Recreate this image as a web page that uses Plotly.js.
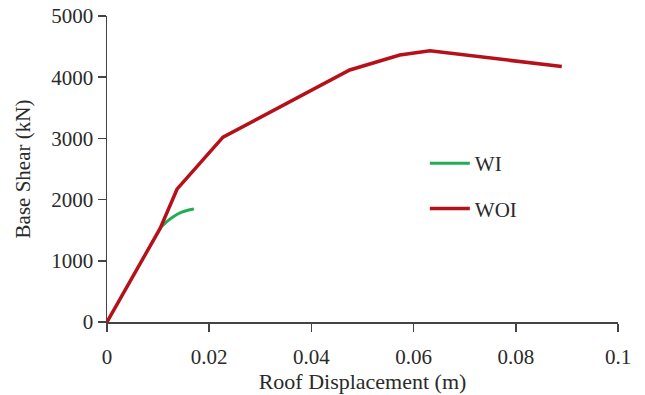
<!DOCTYPE html>
<html>
<head>
<meta charset="utf-8">
<script src="https://cdn.plot.ly/plotly-3.0.1.min.js"></script>
<style>html,body{margin:0;padding:0;background:#fff;}#chart{width:645px;height:395px;}</style>
</head>
<body>
<div id="chart"></div>
<script>
const woiX = [0, 0.0104, 0.0137, 0.0227, 0.0475, 0.0573, 0.0632, 0.089];
const woiY = [0, 1530, 2170, 3020, 4118, 4363, 4430, 4175];
const wiX = [0.0104, 0.0117, 0.0129, 0.0145, 0.016, 0.017];
const wiY = [1536, 1640, 1716, 1790, 1830, 1846];
const xTicks = [0, 0.02, 0.04, 0.06, 0.08, 0.1];
const xTickText = ['0', '0.02', '0.04', '0.06', '0.08', '0.1'];
const yTicks = [0, 1000, 2000, 3000, 4000, 5000];
const yTickText = ['0', '1000', '2000', '3000', '4000', '5000'];

const fam = 'Liberation Serif';
const txt = '#2a2a2a';

const data = [
  {x: wiX, y: wiY, name: 'WI', mode: 'lines', line: {color: '#22ad55', width: 3, shape: 'spline'}, legendgroup: 'a'},
  {x: woiX, y: woiY, name: 'WOI', mode: 'lines', line: {color: '#b5111a', width: 3.5}, legendgroup: 'b'}
];
const layout = {
  width: 645, height: 395,
  margin: {l: 107, r: 27, t: 16, b: 73},
  paper_bgcolor: '#fff', plot_bgcolor: '#fff',
  font: {family: fam, size: 21, color: txt},
  showlegend: true,
  legend: {x: 0.622, y: 0.585, xanchor: 'left', yanchor: 'top', traceorder: 'grouped', tracegroupgap: 15, itemwidth: 40,
           font: {family: fam, size: 21, color: txt}, bgcolor: 'rgba(0,0,0,0)'},
  xaxis: {
    range: [0, 0.1], tickvals: xTicks, ticktext: xTickText,
    showgrid: false, zeroline: false, showline: true, linecolor: '#444', linewidth: 1.5,
    ticks: 'outside', ticklen: 8, tickcolor: '#444', tickwidth: 1.5, ticklabelstandoff: 7,
    tickfont: {family: fam, size: 21, color: txt},
    title: {text: 'Roof Displacement (m)', font: {family: fam, size: 22, color: txt}, standoff: 0}
  },
  yaxis: {
    range: [0, 5000], tickmode: 'array', tickvals: yTicks, ticktext: yTickText,
    showgrid: false, zeroline: false, showline: true, linecolor: '#444', linewidth: 1.5,
    ticks: 'outside', ticklen: 8, tickcolor: '#444', tickwidth: 1.5,
    tickfont: {family: fam, size: 21, color: txt},
    title: {text: 'Base Shear (kN)', font: {family: fam, size: 21, color: txt}, standoff: 15}
  }
};
Plotly.newPlot('chart', data, layout, {displayModeBar: false, staticPlot: true});
</script>
</body>
</html>
